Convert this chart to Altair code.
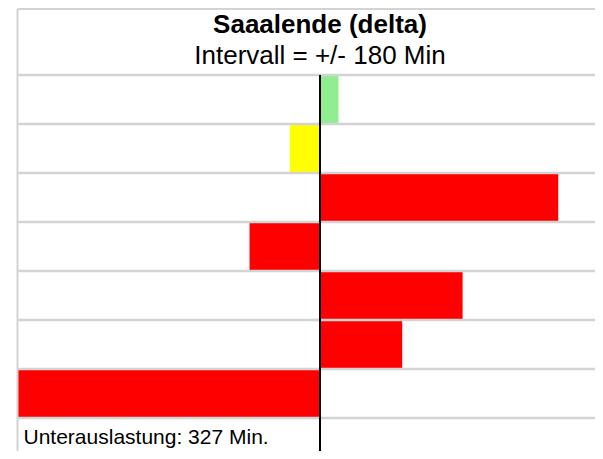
import altair as alt
import pandas as pd

# --- data ---
rows = [1, 2, 3, 4, 5, 6, 7]
delta_min = [11, -18, 142, -42, 85, 49, -180]
status = ["gut", "grenzwertig", "schlecht", "schlecht", "schlecht", "schlecht", "schlecht"]
status_domain = ["gut", "grenzwertig", "schlecht"]
status_colors = ["#90EE90", "#FFFF00", "#FF0000"]
row_count = 8  # 7 bar rows + 1 text row
title_text = "Saaalende (delta)"
subtitle_text = "Intervall = +/- 180 Min"
footer_text = "Unterauslastung: 327 Min."
interval = 180

df = pd.DataFrame({"row": rows, "delta": delta_min, "status": status})
df["top"] = df["row"] - 1
df["base"] = 0
sep_df = pd.DataFrame({"b": list(range(0, row_count))})

# the plot area is cut at the window edge, as in the reference
W, H = 577, 376          # visible plot area
FULL_W, ROW_H = 604, 49  # full scale extents
FONT = "Liberation Sans"
GRID = "#d3d3d3"

xscale = alt.Scale(domain=[-interval, interval], range=[0, FULL_W], nice=False, zero=False)
yscale = alt.Scale(domain=[0, row_count], range=[0, ROW_H * row_count], nice=False, zero=False)

bars = alt.Chart(df).mark_rect(clip=True).encode(
    x=alt.X("delta:Q", scale=xscale, axis=None),
    x2="base:Q",
    y=alt.Y("top:Q", scale=yscale, axis=None),
    y2="row:Q",
    color=alt.Color("status:N", scale=alt.Scale(domain=status_domain, range=status_colors), legend=None),
)

seps = alt.Chart(sep_df).mark_rule(color=GRID, strokeWidth=2.5).encode(
    y=alt.Y("b:Q", scale=yscale, axis=None)
)

header_top = alt.Chart(pd.DataFrame({"a": [0]})).mark_rule(color=GRID, strokeWidth=2).encode(
    x=alt.value(-0.5), x2=alt.value(W), y=alt.value(-66)
)
left_border = alt.Chart(pd.DataFrame({"a": [0]})).mark_rule(color=GRID, strokeWidth=2).encode(
    x=alt.value(-0.5), y=alt.value(-66), y2=alt.value(H)
)

zero_line = alt.Chart(pd.DataFrame({"z": [0]})).mark_rule(color="black", strokeWidth=2).encode(
    x=alt.X("z:Q", scale=xscale, axis=None), y=alt.value(0), y2=alt.value(H)
)

title = alt.Chart(pd.DataFrame({"t": [title_text]})).mark_text(
    font=FONT, fontSize=26, fontWeight="bold", align="center", baseline="alphabetic", color="black"
).encode(text="t:N", x=alt.value(FULL_W / 2), y=alt.value(-42))

subtitle = alt.Chart(pd.DataFrame({"t": [subtitle_text]})).mark_text(
    font=FONT, fontSize=26, align="center", baseline="alphabetic", color="black"
).encode(text="t:N", x=alt.value(FULL_W / 2), y=alt.value(-11))

footer = alt.Chart(pd.DataFrame({"t": [footer_text]})).mark_text(
    font=FONT, fontSize=21, align="left", baseline="alphabetic", color="black"
).encode(text="t:N", x=alt.value(5.5), y=alt.value(369))

chart = alt.layer(
    bars, seps, header_top, left_border, zero_line, title, subtitle, footer
).properties(
    width=W,
    height=H,
    autosize=alt.AutoSizeParams(type="none"),
    padding={"left": 10, "top": 67, "right": 0, "bottom": 0},
    background="white",
).configure_view(strokeWidth=0)

chart.save("out.html", embed_options={"renderer": "svg", "actions": False})
